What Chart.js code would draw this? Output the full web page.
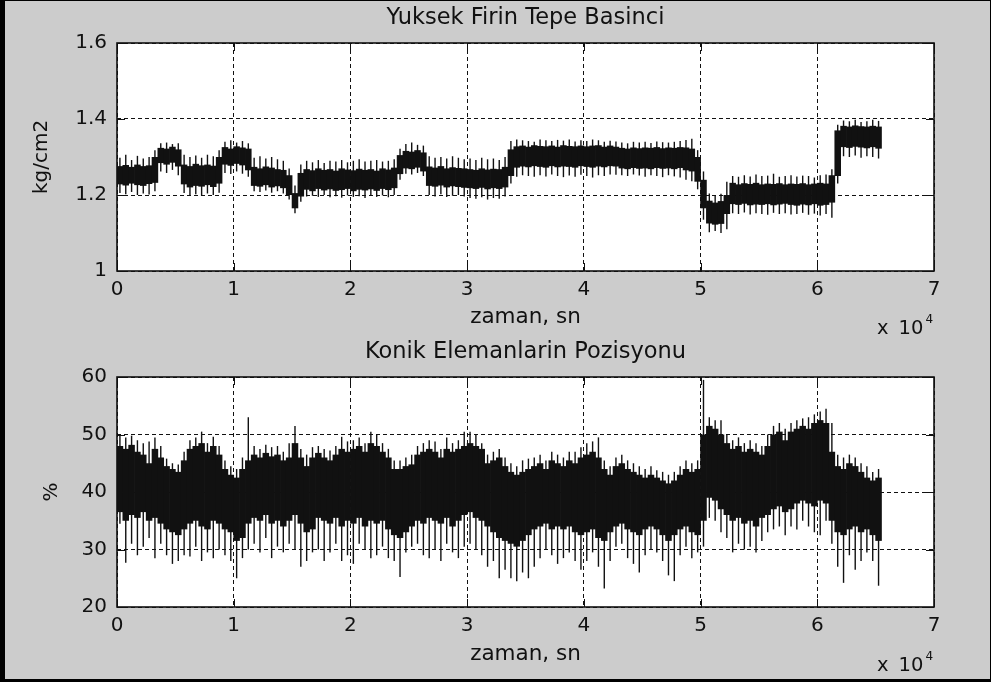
<!DOCTYPE html>
<html>
<head>
<meta charset="utf-8">
<title>Yuksek Firin Tepe Basinci / Konik Elemanlarin Pozisyonu</title>
<script src="https://cdn.jsdelivr.net/npm/chart.js@4.4.1/dist/chart.umd.min.js"></script>
<style>
  html, body { margin: 0; padding: 0; background: #cccccc; }
  #fig { position: relative; width: 991px; height: 682px; background: #cccccc; overflow: hidden; }
  #fig canvas { position: absolute; left: 0; }
  #pressureCanvas { top: 0; }
  #positionCanvas { top: 334px; }
  .frame { position: absolute; left: 0; top: 0; width: 991px; height: 682px; box-sizing: border-box;
           border-style: solid; border-color: #000; border-width: 1px 1px 3px 5px; pointer-events: none; }
  .exp { position: absolute; font-family: "DejaVu Sans", sans-serif; font-size: 19.5px; line-height: 20px;
         color: #111; white-space: nowrap; }
  .exp .mant { margin-left: 10px; }
  .exp sup { font-size: 12px; position: relative; top: -11px; vertical-align: baseline; margin-left: 2px; }
</style>
</head>
<body>
<div id="fig">
  <canvas id="pressureCanvas" width="991" height="334"></canvas>
  <canvas id="positionCanvas" width="991" height="348"></canvas>
  <div class="exp" style="left:877px; top:318px;">x<span class="mant">10</span><sup>4</sup></div>
  <div class="exp" style="left:877px; top:655px;">x<span class="mant">10</span><sup>4</sup></div>
  <div class="frame"></div>
</div>
<script>
// Logged signals, summarised per 500 s bin: dense band (core) and the extreme excursions (peak)
const binWidthSec = 500;

const timeTickLabels = ['0', '1', '2', '3', '4', '5', '6', '7'];
const pressureTickLabels = ['1', '1.2', '1.4', '1.6'];
const positionTickLabels = ['20', '30', '40', '50', '60'];

// Top gas pressure, kg/cm2
const pressureCoreLow = [
  1.228, 1.225, 1.230, 1.226, 1.224, 1.229, 1.232, 1.284, 1.280, 1.285,
  1.275, 1.228, 1.220, 1.224, 1.222, 1.226, 1.221, 1.230, 1.280, 1.277,
  1.282, 1.278, 1.265, 1.224, 1.222, 1.226, 1.220, 1.223, 1.218, 1.200,
  1.165, 1.196, 1.214, 1.210, 1.216, 1.212, 1.215, 1.211, 1.213, 1.216,
  1.210, 1.214, 1.212, 1.215, 1.211, 1.216, 1.213, 1.218, 1.255, 1.270,
  1.268, 1.272, 1.262, 1.224, 1.222, 1.225, 1.220, 1.223, 1.221, 1.219,
  1.218, 1.216, 1.219, 1.215, 1.218, 1.216, 1.220, 1.250, 1.272, 1.275,
  1.273, 1.276, 1.274, 1.272, 1.276, 1.273, 1.275, 1.274, 1.272, 1.276,
  1.274, 1.272, 1.275, 1.273, 1.276, 1.275, 1.270, 1.268, 1.271, 1.269,
  1.270, 1.268, 1.271, 1.269, 1.270, 1.268, 1.271, 1.265, 1.262, 1.235,
  1.165, 1.125, 1.122, 1.124, 1.150, 1.176, 1.174, 1.177, 1.173, 1.175,
  1.174, 1.176, 1.173, 1.175, 1.177, 1.174, 1.172, 1.175, 1.173, 1.176,
  1.172, 1.174, 1.180, 1.250, 1.326, 1.324, 1.327, 1.325, 1.323, 1.326,
  1.322
];
const pressureCoreHigh = [
  1.276, 1.279, 1.274, 1.280, 1.276, 1.278, 1.300, 1.324, 1.322, 1.327,
  1.320, 1.280, 1.276, 1.282, 1.278, 1.280, 1.277, 1.300, 1.326, 1.322,
  1.328, 1.325, 1.322, 1.274, 1.270, 1.275, 1.272, 1.268, 1.266, 1.252,
  1.205, 1.258, 1.268, 1.265, 1.270, 1.266, 1.268, 1.264, 1.270, 1.267,
  1.265, 1.269, 1.266, 1.268, 1.264, 1.270, 1.267, 1.272, 1.305, 1.316,
  1.314, 1.318, 1.312, 1.275, 1.272, 1.276, 1.270, 1.273, 1.271, 1.270,
  1.268, 1.266, 1.270, 1.267, 1.269, 1.268, 1.274, 1.320, 1.328, 1.330,
  1.327, 1.331, 1.329, 1.328, 1.330, 1.327, 1.331, 1.329, 1.328, 1.330,
  1.328, 1.330, 1.331, 1.327, 1.330, 1.327, 1.324, 1.322, 1.325, 1.323,
  1.325, 1.324, 1.326, 1.323, 1.325, 1.324, 1.326, 1.325, 1.322, 1.300,
  1.240, 1.185, 1.180, 1.184, 1.200, 1.232, 1.228, 1.231, 1.229, 1.232,
  1.228, 1.230, 1.229, 1.231, 1.228, 1.230, 1.229, 1.231, 1.228, 1.230,
  1.232, 1.230, 1.252, 1.370, 1.382, 1.380, 1.383, 1.381, 1.380, 1.382,
  1.380
];
const pressurePeakLow = [
  1.205, 1.202, 1.208, 1.200, 1.204, 1.201, 1.210, 1.262, 1.258, 1.266,
  1.252, 1.205, 1.200, 1.202, 1.198, 1.204, 1.200, 1.206, 1.258, 1.255,
  1.262, 1.256, 1.248, 1.210, 1.208, 1.212, 1.206, 1.210, 1.204, 1.188,
  1.152, 1.182, 1.196, 1.198, 1.195, 1.200, 1.194, 1.197, 1.193, 1.199,
  1.195, 1.197, 1.192, 1.198, 1.195, 1.199, 1.194, 1.200, 1.240, 1.256,
  1.254, 1.258, 1.250, 1.200, 1.196, 1.202, 1.195, 1.198, 1.200, 1.196,
  1.192, 1.190, 1.194, 1.188, 1.192, 1.190, 1.196, 1.230, 1.248, 1.252,
  1.250, 1.248, 1.252, 1.249, 1.254, 1.250, 1.247, 1.251, 1.248, 1.253,
  1.250, 1.246, 1.252, 1.250, 1.254, 1.253, 1.252, 1.250, 1.254, 1.251,
  1.248, 1.252, 1.250, 1.247, 1.252, 1.249, 1.246, 1.240, 1.236, 1.215,
  1.135, 1.102, 1.105, 1.100, 1.110, 1.152, 1.150, 1.154, 1.149, 1.152,
  1.150, 1.148, 1.153, 1.150, 1.152, 1.149, 1.150, 1.153, 1.148, 1.151,
  1.146, 1.150, 1.140, 1.230, 1.302, 1.300, 1.304, 1.298, 1.302, 1.300,
  1.296
];
const pressurePeakHigh = [
  1.298, 1.306, 1.292, 1.303, 1.296, 1.300, 1.318, 1.336, 1.338, 1.334,
  1.336, 1.306, 1.300, 1.304, 1.298, 1.306, 1.302, 1.318, 1.340, 1.344,
  1.338, 1.342, 1.336, 1.298, 1.302, 1.296, 1.300, 1.294, 1.290, 1.270,
  1.225, 1.280, 1.290, 1.286, 1.292, 1.284, 1.290, 1.288, 1.292, 1.286,
  1.290, 1.294, 1.288, 1.290, 1.292, 1.288, 1.290, 1.294, 1.322, 1.334,
  1.338, 1.332, 1.330, 1.302, 1.298, 1.300, 1.296, 1.302, 1.298, 1.294,
  1.296, 1.292, 1.298, 1.294, 1.296, 1.292, 1.300, 1.342, 1.346, 1.344,
  1.342, 1.340, 1.346, 1.344, 1.342, 1.345, 1.343, 1.346, 1.341, 1.344,
  1.342, 1.346, 1.344, 1.340, 1.343, 1.341, 1.338, 1.336, 1.340, 1.338,
  1.340, 1.337, 1.341, 1.339, 1.338, 1.340, 1.342, 1.345, 1.348, 1.318,
  1.262, 1.204, 1.200, 1.203, 1.235, 1.250, 1.248, 1.252, 1.249, 1.254,
  1.250, 1.251, 1.256, 1.248, 1.250, 1.252, 1.249, 1.251, 1.250, 1.246,
  1.252, 1.254, 1.268, 1.385, 1.396, 1.394, 1.398, 1.392, 1.394, 1.398,
  1.395
];

// Cone (bell) position, %
const positionCoreLow = [
  36.5, 35.0, 36.0, 35.5, 36.5, 35.0, 35.5, 34.5, 33.5, 33.0,
  32.5, 33.5, 34.5, 35.0, 34.0, 33.5, 35.0, 34.5, 33.5, 33.0,
  31.5, 32.0, 34.5, 35.5, 35.0, 36.0, 34.5, 35.0, 34.0, 35.0,
  36.0, 34.5, 33.0, 33.5, 35.5, 35.0, 34.5, 35.5, 34.0, 35.0,
  34.5, 35.5, 34.0, 35.0, 34.5, 35.0, 33.5, 32.5, 32.0, 33.0,
  34.0, 35.0, 34.5, 35.5, 35.0, 34.5, 35.5, 34.0, 35.0, 36.0,
  36.5, 35.5, 35.0, 34.0, 33.0, 32.0, 31.5, 31.0, 30.5, 31.5,
  32.5, 33.5, 34.0, 34.5, 33.5, 34.0, 33.5, 34.0, 33.0, 32.5,
  33.0, 33.5, 32.0, 31.5, 33.0, 34.0, 34.5, 33.5, 33.0, 32.5,
  33.5, 34.0, 33.5, 32.5, 31.5, 32.5, 33.5, 34.0, 33.0, 32.5,
  35.0, 39.0, 38.5, 37.0, 36.0, 35.0, 35.5, 34.5, 35.0, 34.0,
  35.5, 36.0, 37.0, 37.5, 36.5, 37.0, 38.0, 38.5, 38.0, 37.5,
  38.5, 38.0, 35.0, 33.0, 32.5, 33.5, 34.0, 33.0, 33.5, 32.5,
  31.5
];
const positionCoreHigh = [
  48.0, 47.5, 48.2, 47.0, 46.5, 45.0, 47.5, 46.0, 44.5, 44.0,
  43.5, 45.5, 47.5, 48.0, 48.5, 47.0, 48.0, 46.5, 44.0, 43.0,
  42.5, 44.0, 45.5, 46.5, 46.0, 46.8, 46.2, 46.5, 45.5, 46.0,
  48.5, 46.0, 44.5, 46.0, 46.8, 46.0, 45.5, 46.5, 47.5, 47.0,
  47.5, 48.0, 47.0, 48.5, 48.0, 47.0, 46.0, 44.0, 44.0, 44.5,
  44.8, 46.5, 47.0, 47.5, 47.0, 46.0, 47.5, 47.0, 47.5, 48.0,
  48.5, 48.0, 47.5, 45.0, 45.5, 46.0, 44.5, 43.5, 43.0, 43.5,
  44.0, 44.5, 45.0, 44.0, 45.5, 45.0, 44.5, 45.5, 45.0, 46.0,
  46.5, 47.0, 46.0, 44.0, 43.0, 44.5, 45.0, 44.0, 43.5, 43.0,
  42.5, 43.0, 42.5, 42.0, 41.5, 42.0, 43.0, 44.0, 43.5, 44.0,
  50.0, 51.5, 51.0, 50.0, 48.5, 47.5, 48.0, 47.0, 47.5, 47.0,
  46.5, 48.0, 50.0, 50.5, 49.0, 50.5, 51.0, 51.5, 51.0, 52.0,
  52.5, 52.0, 47.0, 44.5, 44.0, 45.0, 44.5, 43.5, 42.5, 42.0,
  42.5
];
const positionPeakLow = [
  34.5, 27.7, 31.0, 29.0, 30.5, 32.0, 28.5, 31.0, 29.0, 27.5,
  28.0, 29.0, 28.8, 30.5, 28.0, 29.5, 28.5, 30.0, 29.0, 28.0,
  25.0, 28.5, 30.0, 31.0, 29.5, 32.0, 28.5, 30.5, 29.5, 31.0,
  30.0, 27.0, 28.0, 29.5, 30.0, 28.0, 29.5, 31.0, 28.0, 29.0,
  27.5, 31.0, 30.0, 28.5, 29.0, 30.5, 28.5, 28.0, 25.2, 29.5,
  30.5, 31.0, 29.0, 28.5, 30.0, 28.0, 31.0, 29.5, 28.5, 30.5,
  31.0, 30.0, 29.0, 27.0, 28.0, 25.0, 26.5, 25.0, 24.5, 26.0,
  25.0, 27.0, 28.5, 30.0, 29.0, 27.5, 28.5, 29.5, 28.0, 26.5,
  28.0, 29.5, 27.0, 23.2, 28.0, 30.5, 31.0, 28.5, 27.5, 26.0,
  29.0, 30.0, 29.5, 28.0, 25.5, 24.5, 29.0, 30.5, 28.5, 29.5,
  30.5, 35.5, 35.0, 33.0, 32.0, 29.5, 31.0, 30.0, 30.5, 29.5,
  31.5, 33.0, 33.5, 34.0, 32.5, 34.0, 33.5, 35.0, 34.0, 33.0,
  32.5, 35.0, 31.0, 27.0, 24.2, 29.0, 26.5, 28.0, 29.5, 28.0,
  23.7
];
const positionPeakHigh = [
  50.0, 49.5, 49.8, 49.0, 48.5, 48.8, 49.5, 48.0, 45.8, 45.0,
  44.8, 47.0, 49.0, 49.5, 50.5, 48.5, 49.6, 48.0, 45.5, 44.5,
  44.0, 46.0, 53.0, 48.0, 47.5, 48.2, 47.8, 48.0, 47.0, 48.5,
  51.5, 47.5, 46.5, 47.8, 48.0, 47.5, 47.2, 48.0, 49.6, 48.8,
  49.0, 49.5, 48.5, 50.5, 50.0, 48.5, 47.5, 45.5, 45.5, 46.0,
  46.5, 48.0, 48.5, 49.0, 48.8, 47.5, 49.5, 48.5, 49.0, 50.5,
  50.5, 50.0, 48.5, 46.5, 47.0, 47.5, 46.0, 45.0, 44.5, 45.5,
  45.8, 46.0, 46.5, 45.5, 47.0, 46.5, 46.0, 47.0, 47.0, 47.8,
  48.5, 48.8, 49.5, 45.5, 44.5, 46.0, 46.5, 45.5, 45.0, 44.5,
  44.0, 44.5, 43.8, 43.5, 43.0, 43.5, 44.5, 45.5, 45.0, 45.5,
  59.5, 53.0, 52.5, 52.5, 50.0, 49.0, 49.5, 48.5, 49.0, 48.5,
  48.0, 50.0, 51.5, 52.0, 51.0, 52.0, 52.5, 52.8, 53.0, 53.5,
  54.0, 54.5, 52.0, 46.5, 46.0, 46.5, 46.0, 45.0, 44.5, 43.5,
  44.0
];

const INK = '#111111';
const FONT = '"DejaVu Sans", sans-serif';
Chart.defaults.font.family = FONT;
Chart.defaults.color = INK;

// floating bars [low, high] centred on each time bin
function envelope(low, high) {
  return low.map((v, i) => ({ x: (i + 0.5) * binWidthSec, y: [v, high[i]] }));
}

// white axes background, full box and inward tick marks
const axesBox = {
  id: 'axesBox',
  beforeDraw(chart) {
    const { ctx, chartArea: a } = chart;
    ctx.save();
    ctx.fillStyle = '#ffffff';
    ctx.fillRect(a.left, a.top, a.right - a.left, a.bottom - a.top);
    ctx.restore();
  },
  afterDatasetsDraw(chart, args, opts) {
    const { ctx, chartArea: a, scales } = chart;
    const len = opts.tickLength;
    ctx.save();
    ctx.strokeStyle = INK;
    ctx.lineWidth = 1;
    ctx.beginPath();
    scales.x.ticks.forEach(t => {
      const px = Math.round(scales.x.getPixelForValue(t.value)) + 0.5;
      ctx.moveTo(px, a.bottom); ctx.lineTo(px, a.bottom - len);
      ctx.moveTo(px, a.top); ctx.lineTo(px, a.top + len);
    });
    scales.y.ticks.forEach(t => {
      const py = Math.round(scales.y.getPixelForValue(t.value)) + 0.5;
      ctx.moveTo(a.left, py); ctx.lineTo(a.left + len, py);
      ctx.moveTo(a.right, py); ctx.lineTo(a.right - len, py);
    });
    ctx.stroke();
    ctx.lineWidth = 1.6;
    ctx.strokeRect(a.left, a.top, a.right - a.left, a.bottom - a.top);
    ctx.restore();
  }
};

function makePanel(canvasId, p) {
  return new Chart(document.getElementById(canvasId), {
    type: 'bar',
    data: {
      datasets: [
        { data: envelope(p.coreLow, p.coreHigh), backgroundColor: INK, borderWidth: 0,
          grouped: false, categoryPercentage: 1, barPercentage: 1.12 },
        { data: envelope(p.peakLow, p.peakHigh), backgroundColor: INK, borderWidth: 0,
          grouped: false, categoryPercentage: 1, barPercentage: 0.24 }
      ]
    },
    plugins: [axesBox],
    options: {
      responsive: false,
      animation: false,
      events: [],
      layout: { padding: { left: 0, right: 57, top: 0, bottom: 0 } },
      plugins: {
        legend: { display: false },
        tooltip: { enabled: false },
        axesBox: { tickLength: 8 },
        title: {
          display: true, text: p.title, color: INK, fullSize: false,
          font: { family: FONT, size: 22.5, weight: 'normal' },
          padding: { top: 4.7, bottom: 11.3 }
        }
      },
      scales: {
        x: {
          type: 'linear', min: 0, max: 70000, offset: false,
          afterFit: s => { s.height = p.xAxisHeight; },
          grid: { display: true, drawTicks: false, offset: false, color: INK, lineWidth: 1 },
          border: { display: false, dash: [4, 3] },
          ticks: {
            stepSize: 10000, autoSkip: false, maxRotation: 0, padding: 7,
            font: { size: 20 }, color: INK,
            callback: v => timeTickLabels[Math.round(v / 10000)]
          },
          title: {
            display: true, text: 'zaman, sn', color: INK,
            font: { family: FONT, size: 21.5, weight: 'normal' },
            padding: { top: 0, bottom: p.xTitlePad }
          }
        },
        y: {
          min: p.yMin, max: p.yMax,
          afterFit: s => { s.width = 117; },
          grid: { display: true, drawTicks: false, color: INK, lineWidth: 1 },
          border: { display: false, dash: [4, 3] },
          ticks: {
            stepSize: p.yStep, padding: 10, font: { size: 20 }, color: INK,
            callback: v => p.tickLabels[Math.round((v - p.yMin) / p.yStep)]
          },
          title: {
            display: true, text: p.yTitle, color: INK,
            font: { family: FONT, size: 20, weight: 'normal' },
            padding: { top: p.yTitlePad, bottom: 0 }
          }
        }
      }
    }
  });
}

makePanel('pressureCanvas', {
  title: 'Yuksek Firin Tepe Basinci', yTitle: 'kg/cm2',
  coreLow: pressureCoreLow, coreHigh: pressureCoreHigh,
  peakLow: pressurePeakLow, peakHigh: pressurePeakHigh,
  yMin: 1, yMax: 1.6, yStep: 0.2, tickLabels: pressureTickLabels,
  xAxisHeight: 63, xTitlePad: 3.5, yTitlePad: 30
});

makePanel('positionCanvas', {
  title: 'Konik Elemanlarin Pozisyonu', yTitle: '%',
  coreLow: positionCoreLow, coreHigh: positionCoreHigh,
  peakLow: positionPeakLow, peakHigh: positionPeakHigh,
  yMin: 20, yMax: 60, yStep: 10, tickLabels: positionTickLabels,
  xAxisHeight: 75, xTitlePad: 14.5, yTitlePad: 39.5
});
</script>
</body>
</html>
